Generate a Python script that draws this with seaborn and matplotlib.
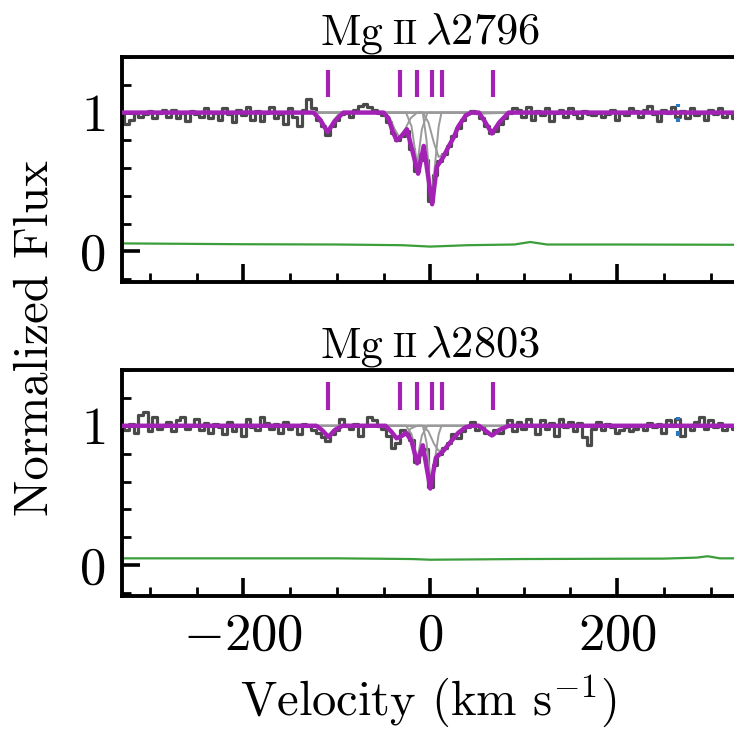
import numpy as np
import pandas as pd
import matplotlib
matplotlib.use("Agg")
import matplotlib.pyplot as plt
from matplotlib.ticker import MultipleLocator
from matplotlib.offsetbox import TextArea, HPacker, AnchoredOffsetbox
import seaborn as sns

# ---------------- data ----------------
LINES = ["2796", "2803"]
V_START, V_STEP = -330, 5  # velocity grid of the flux pixels (km/s)

TOP_FLUX = [
    0.98, 0.92, 0.95, 1.00, 0.97, 0.99, 1.01, 0.96, 1.00, 1.02,
    0.97, 1.02, 0.96, 1.00, 0.94, 1.01, 0.99, 0.97, 1.03, 0.96,
    1.00, 0.95, 1.03, 0.99, 0.93, 1.02, 0.98, 1.04, 0.95, 1.01,
    0.94, 1.00, 1.04, 0.96, 0.99, 0.92, 1.03, 0.97, 0.90, 1.02,
    1.10, 1.03, 0.95, 0.90, 0.84, 0.90, 0.95, 0.99, 1.00, 0.97,
    1.02, 1.05, 1.06, 1.04, 1.02, 1.00, 0.98, 0.93, 0.85, 0.80,
    0.83, 0.87, 0.74, 0.58, 0.70, 0.66, 0.36, 0.55, 0.65, 0.70,
    0.76, 0.83, 0.89, 0.95, 1.00, 1.01, 1.00, 0.96, 0.90, 0.85,
    0.87, 0.92, 0.96, 1.00, 1.03, 1.02, 0.97, 1.04, 0.95, 1.01,
    0.98, 1.03, 0.94, 1.00, 1.02, 0.97, 1.03, 0.99, 0.96, 1.01,
    0.99, 0.98, 1.00, 0.97, 0.99, 1.02, 0.95, 1.00, 0.98, 1.03,
    1.01, 0.97, 1.02, 1.05, 0.99, 0.94, 1.02, 1.00, 1.04, 0.97,
    1.01, 0.96, 1.03, 0.98, 1.00, 0.95, 1.02, 0.99, 1.03, 0.97,
    1.00, 0.96, 1.01,
]
BOT_FLUX = [
    1.00, 0.97, 1.01, 0.95, 1.08, 1.10, 0.96, 1.06, 0.98, 1.00,
    1.03, 0.96, 1.04, 1.06, 0.98, 1.00, 1.05, 0.97, 1.02, 0.95,
    1.01, 0.99, 0.94, 1.03, 0.96, 1.00, 0.93, 1.05, 0.99, 0.97,
    1.06, 1.02, 0.98, 1.01, 0.95, 1.03, 0.98, 1.00, 0.94, 1.01,
    1.00, 0.97, 0.95, 0.92, 0.89, 0.94, 0.97, 1.05, 1.00, 0.98,
    1.01, 0.93, 1.00, 1.06, 1.04, 1.00, 0.98, 0.93, 0.84, 0.88,
    0.97, 0.95, 0.90, 0.74, 0.80, 0.83, 0.56, 0.72, 0.80, 0.84,
    0.88, 0.94, 0.91, 0.96, 0.99, 1.03, 0.97, 1.00, 0.95, 0.94,
    0.97, 0.95, 1.00, 1.04, 0.96, 1.03, 0.98, 1.05, 1.00, 0.94,
    1.04, 0.98, 1.02, 0.93, 1.05, 0.99, 1.03, 0.96, 1.02, 0.92,
    0.86, 0.98, 1.03, 0.97, 1.01, 0.99, 0.95, 0.97, 0.99, 0.96,
    0.98, 1.00, 0.97, 1.02, 0.99, 1.01, 0.95, 1.04, 1.00, 1.05,
    0.93, 1.00, 0.97, 1.03, 1.06, 0.98, 1.04, 0.99, 1.02, 0.97,
    1.00, 0.98, 1.01,
]

TOP_MODEL_V = [-330, -125, -118, -110, -102, -93, -50, -45, -40, -36, -31, -25, -13, -7,
               2, 7, 14, 20, 25, 30, 34, 38, 44, 52, 58, 66, 74, 84, 330]
TOP_MODEL_F = [1.0, 1.0, 0.95, 0.86, 0.94, 1.0, 1.0, 0.96, 0.86, 0.80, 0.83, 0.88, 0.56, 0.76,
               0.34, 0.61, 0.68, 0.76, 0.82, 0.90, 0.94, 0.98, 1.0, 1.0, 0.94, 0.85, 0.93, 1.0, 1.0]
BOT_MODEL_V = [-330, -122, -116, -109, -102, -94, -48, -42, -36, -30, -26, -20, -14, -8,
               0, 6, 14, 20, 25, 30, 34, 38, 44, 52, 58, 66, 74, 84, 330]
BOT_MODEL_F = [1.0, 1.0, 0.97, 0.92, 0.97, 1.0, 1.0, 0.96, 0.91, 0.93, 0.95, 0.89, 0.73, 0.86,
               0.55, 0.77, 0.82, 0.87, 0.91, 0.95, 0.97, 0.99, 1.0, 1.0, 0.97, 0.93, 0.97, 1.0, 1.0]

# individual Voigt components
TOP_COMP_V = [
    [-130, -122, -116, -110, -104, -98, -90, 90],
    [-130, -50, -44, -38, -33, -27, -21, -14, 90],
    [-130, -26, -20, -14, -9, -3, 90],
    [-130, -8, -4, 1, 5, 9, 12, 90],
    [-130, -8, -2, 4, 9, 14, 20, 27, 34, 42, 90],
    [-130, 50, 58, 66, 74, 84, 90],
]
TOP_COMP_F = [
    [1.0, 0.99, 0.94, 0.86, 0.94, 0.99, 1.0, 1.0],
    [1.0, 1.0, 0.97, 0.88, 0.82, 0.88, 0.96, 1.0, 1.0],
    [1.0, 1.0, 0.90, 0.62, 0.88, 1.0, 1.0],
    [1.0, 1.0, 0.80, 0.36, 0.62, 0.90, 1.0, 1.0],
    [1.0, 1.0, 0.93, 0.78, 0.68, 0.70, 0.77, 0.86, 0.94, 0.99, 1.0],
    [1.0, 1.0, 0.94, 0.85, 0.94, 0.995, 1.0],
]
BOT_COMP_V = TOP_COMP_V
BOT_COMP_F = [
    [1.0, 0.995, 0.97, 0.92, 0.97, 0.995, 1.0, 1.0],
    [1.0, 1.0, 0.98, 0.93, 0.91, 0.93, 0.98, 1.0, 1.0],
    [1.0, 1.0, 0.94, 0.76, 0.93, 1.0, 1.0],
    [1.0, 1.0, 0.88, 0.57, 0.76, 0.94, 1.0, 1.0],
    [1.0, 1.0, 0.96, 0.87, 0.82, 0.83, 0.87, 0.92, 0.97, 0.995, 1.0],
    [1.0, 1.0, 0.97, 0.93, 0.97, 0.997, 1.0],
]

TOP_ERR_V = [-330, -200, -100, -30, 0, 40, 90, 107, 125, 200, 330]
TOP_ERR_F = [0.058, 0.052, 0.050, 0.045, 0.035, 0.045, 0.050, 0.068, 0.050, 0.050, 0.048]
BOT_ERR_V = [-330, -100, -20, 0, 100, 250, 285, 297, 310, 330]
BOT_ERR_F = [0.050, 0.050, 0.045, 0.040, 0.045, 0.048, 0.055, 0.065, 0.050, 0.050]

COMP_TICKS = [-109, -32, -14, 2, 13, 67]
TICK_LO, TICK_HI = 1.11, 1.31
MASK_V = 265

# ---------------- style ----------------
sns.set_theme(style="white")
plt.rcParams["font.family"] = ["cmr10", "DejaVu Serif"]
plt.rcParams["mathtext.fontset"] = "cm"
plt.rcParams["axes.formatter.use_mathtext"] = True
plt.rcParams["axes.unicode_minus"] = True
plt.rcParams["text.color"] = "black"
plt.rcParams["xtick.labelcolor"] = "black"
plt.rcParams["ytick.labelcolor"] = "black"

MAGENTA = "#a322b5"
DARK = "#4a4a4a"
COMPGREY = "#9a9a9a"
GREEN = "#3a9e3a"
BLUE = "#2a78c0"

fig = plt.figure(figsize=(7.34, 7.34), dpi=100)
ax_top = fig.add_axes([0.1662, 0.6158, 0.840, 0.3065])
ax_bot = fig.add_axes([0.1662, 0.188, 0.840, 0.308])

vgrid = V_START + V_STEP * np.arange(len(TOP_FLUX))

panels = [
    (ax_top, LINES[0], TOP_FLUX, TOP_MODEL_V, TOP_MODEL_F, TOP_COMP_V, TOP_COMP_F, TOP_ERR_V, TOP_ERR_F),
    (ax_bot, LINES[1], BOT_FLUX, BOT_MODEL_V, BOT_MODEL_F, BOT_COMP_V, BOT_COMP_F, BOT_ERR_V, BOT_ERR_F),
]

for i, (ax, lam, flux, mv, mf, cv, cf, ev, ef) in enumerate(panels):
    df = pd.DataFrame({"v": vgrid, "f": flux})
    sns.lineplot(data=df, x="v", y="f", ax=ax, color=DARK, linewidth=2.3,
                 drawstyle="steps-mid", estimator=None, sort=False, zorder=2)
    for v_c, f_c in zip(cv, cf):
        sns.lineplot(x=v_c, y=f_c, ax=ax, color=COMPGREY, linewidth=1.4,
                     estimator=None, sort=False, zorder=3)
    sns.lineplot(x=mv, y=mf, ax=ax, color=MAGENTA, linewidth=3.2,
                 estimator=None, sort=False, zorder=4)
    sns.lineplot(x=ev, y=ef, ax=ax, color=GREEN, linewidth=1.6,
                 estimator=None, sort=False, zorder=2)
    ax.vlines(COMP_TICKS, TICK_LO, TICK_HI, color=MAGENTA, linewidth=3, zorder=4)
    ax.vlines([MASK_V], 0.93, 0.96, color=BLUE, linewidth=3, zorder=5)
    ax.vlines([MASK_V], 1.04, 1.06, color=BLUE, linewidth=3, zorder=5)

    ax.set_xlim(-330, 330)
    ax.set_ylim(-0.22, 1.40)
    ax.xaxis.set_major_locator(MultipleLocator(200))
    ax.xaxis.set_minor_locator(MultipleLocator(50))
    ax.yaxis.set_major_locator(MultipleLocator(1))
    ax.yaxis.set_minor_locator(MultipleLocator(0.2))
    ax.tick_params(which="both", direction="in", bottom=True, left=True, top=False, right=False,
                   labelsize=38, color="black", labelcolor="black")
    ax.tick_params(which="major", length=13, width=2.6, pad=12)
    ax.tick_params(which="minor", length=6.5, width=2.0)
    ax.set_xlabel("")
    ax.set_ylabel("")
    for s in ax.spines.values():
        s.set_linewidth(2.8)
        s.set_color("black")
    if i == 0:
        ax.tick_params(labelbottom=False)

    title = HPacker(children=[
        TextArea("Mg", textprops=dict(fontsize=32, family="cmr10", color="black")),
        TextArea("II", textprops=dict(fontsize=25, family="cmr10", color="black")),
        TextArea(r"$\lambda$" + lam, textprops=dict(fontsize=32, family="cmr10", color="black")),
    ], align="baseline", pad=0, sep=6)
    ab = AnchoredOffsetbox(loc="lower center", child=title, bbox_to_anchor=(0.5, 1.0),
                           bbox_transform=ax.transAxes, frameon=False, pad=0, borderpad=0.2)
    ax.add_artist(ab)

fig.text(0.048, 0.54, "Normalized Flux", rotation=90, ha="center", va="center",
         fontsize=35, color="black")
fig.text(0.583, 0.045, r"Velocity (km s$^{-1}$)", ha="center", va="center",
         fontsize=35, color="black")

fig.savefig("out.png", dpi=100)
